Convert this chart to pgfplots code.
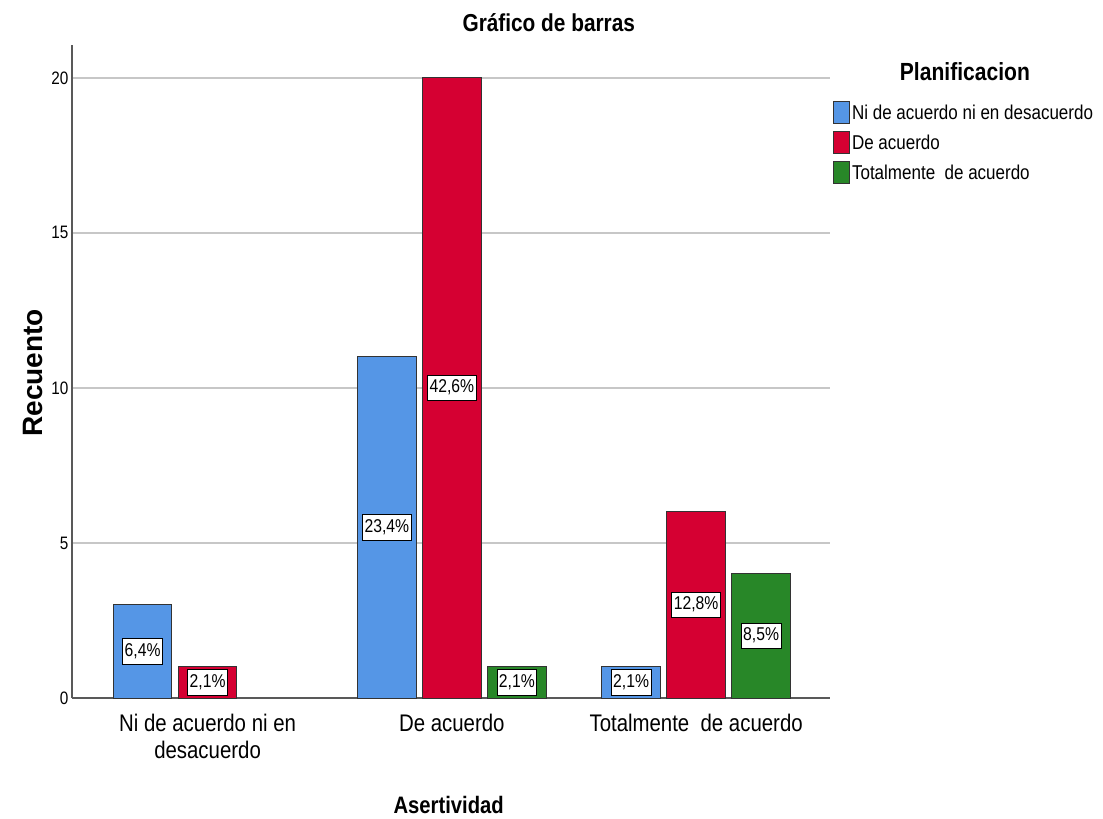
\documentclass[border=0pt]{standalone}
\usepackage{fontspec}
\setmainfont{Liberation Sans}[FakeStretch=0.85]
\newfontfamily\widefont{Liberation Sans}
\usepackage{pgfplots}
\pgfplotsset{compat=1.18}
\usetikzlibrary{calc}
\definecolor{cblue}{RGB}{85,150,230}
\definecolor{cred}{RGB}{213,0,50}
\definecolor{cgreen}{RGB}{40,135,40}
\begin{document}
\begin{tikzpicture}
\begin{axis}[name=ax, scale only axis, width=758pt, height=653pt,
  xmin=-0.555, xmax=2.548, ymin=0, ymax=21.06,
  axis x line*=bottom, axis y line*=left,
  axis line style={draw=black!65, line width=1.2pt, -},
  xtick={0,1,2},
  xticklabels={{Ni de acuerdo ni en\\desacuerdo}, {De acuerdo}, {Totalmente\ \ de acuerdo}},
  ytick={0,5,10,15,20},
  major tick length=0pt,
  ymajorgrids, grid style={draw=black!22, line width=1.5pt},
  yticklabel style={font=\fontsize{18}{21}\selectfont},
  xticklabel style={font=\fontsize{24}{27}\selectfont, align=center, yshift=-13pt},
  /pgf/number format/assume math mode=true,
  clip=false,
  legend style={at={(1.004,0.914)}, anchor=north west, draw=none, fill=none,
    inner sep=0pt, outer sep=0pt, row sep=7pt,
    font=\fontsize{20}{24}\selectfont,
    nodes={inner xsep=2pt, inner ysep=0pt}},
  legend cell align=left,
  legend image code/.code={\draw[#1, line width=1pt] (0pt,-4pt) rectangle (16pt,18pt);},
  every legend image post/.append style={yshift=-7pt},
]
\addplot[ybar, bar width=0.24, bar shift=0pt, fill=cblue, draw=black!80, line width=1pt]
  coordinates {(-0.266,3) (0.734,11) (1.734,1)};
\addlegendentry{Ni de acuerdo ni en desacuerdo}
\addplot[ybar, bar width=0.24, bar shift=0pt, fill=cred, draw=black!80, line width=1pt]
  coordinates {(0,1) (1,20) (2,6)};
\addlegendentry{De acuerdo}
\addplot[ybar, bar width=0.24, bar shift=0pt, fill=cgreen, draw=black!80, line width=1pt]
  coordinates {(1.266,1) (2.266,4)};
\addlegendentry{Totalmente\ \ de acuerdo}
\addplot[draw=none, mark=none, forget plot, nodes near coords, point meta=explicit symbolic,
  nodes near coords style={anchor=center, fill=white, draw=black, line width=0.8pt,
    font=\fontsize{18.5}{21}\selectfont, inner xsep=2pt, inner ysep=4.5pt,
    text height=13pt, text depth=3.5pt}]
  coordinates {(-0.266,1.5) [6,4\%] (0,0.5) [2,1\%]
               (0.734,5.5) [23,4\%] (1,10) [42,6\%] (1.266,0.5) [2,1\%]
               (1.734,0.5) [2,1\%] (2,3) [12,8\%] (2.266,2) [8,5\%]};
\node[font=\bfseries\fontsize{24.5}{29}\selectfont] at (rel axis cs:0.629,1.034) {Gráfico de barras};
\node[font=\bfseries\fontsize{24.8}{29}\selectfont] at (rel axis cs:1.178,0.959) {Planificacion};
\node[font=\bfseries\fontsize{23.8}{28}\selectfont] at (rel axis cs:0.497,-0.164) {Asertividad};
\node[rotate=90, font=\widefont\bfseries\fontsize{28}{32}\selectfont] at (rel axis cs:-0.0515,0.498) {Recuento};
\end{axis}
\pgfresetboundingbox
\path ($(ax.south west)+(-72pt,-121pt)$) rectangle ($(ax.north east)+(273pt,45pt)$);
\end{tikzpicture}
\end{document}
